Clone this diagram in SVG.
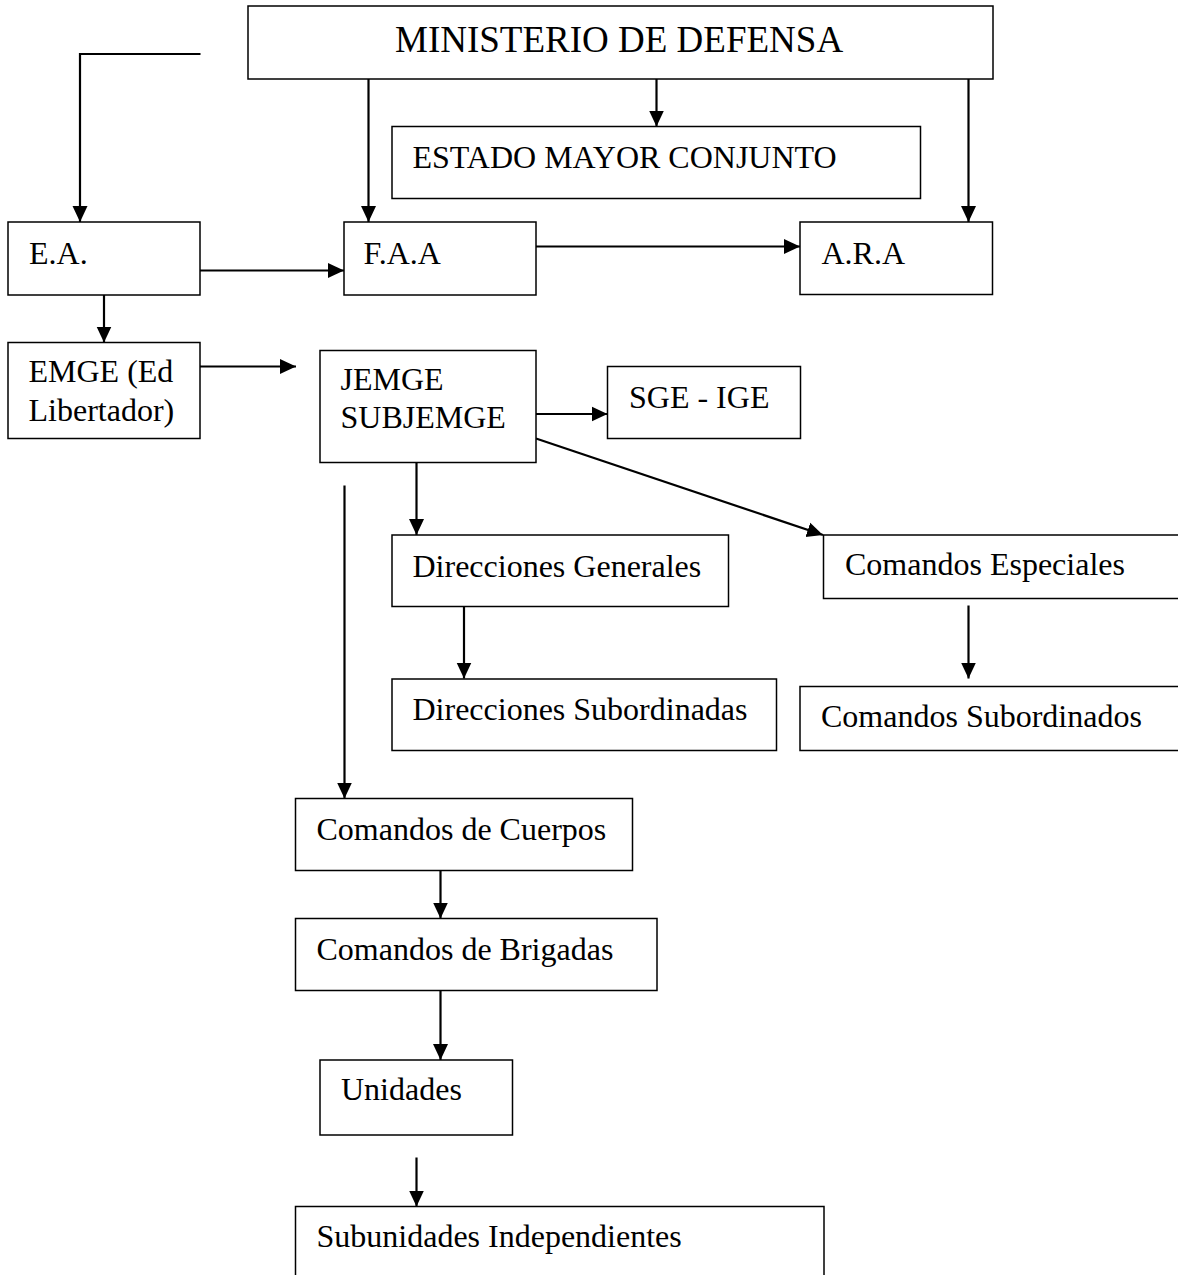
<svg xmlns="http://www.w3.org/2000/svg" width="1178" height="1275" viewBox="0 0 1178 1275">
<style>
.box{fill:#fff;stroke:#000;stroke-width:1.5}
.t{font-family:"Liberation Serif","Times New Roman",serif;font-size:32px;fill:#000}
.big{font-size:37px}
.c{fill:none;stroke:#000;stroke-width:2.2}
</style>
<defs>
<marker id="ah" markerUnits="userSpaceOnUse" viewBox="0 0 16 16" markerWidth="16" markerHeight="16" refX="16" refY="8" orient="auto">
<path d="M0,0.5 L16,8 L0,15.5 Z" fill="#000"/>
</marker>
</defs>
<rect width="1178" height="1275" fill="#fff"/>
<g id="connectors">
<path class="c" d="M200.5,54 H80 V222" marker-end="url(#ah)"/>
<path class="c" d="M368.5,79 V222" marker-end="url(#ah)"/>
<path class="c" d="M656.5,79 V126.5" marker-end="url(#ah)"/>
<path class="c" d="M968.5,79 V222" marker-end="url(#ah)"/>
<path class="c" d="M200,270.5 H344" marker-end="url(#ah)"/>
<path class="c" d="M536,246.5 H800" marker-end="url(#ah)"/>
<path class="c" d="M104,295 V342.5" marker-end="url(#ah)"/>
<path class="c" d="M200,366.5 H296" marker-end="url(#ah)"/>
<path class="c" d="M536,414 H607.5" marker-end="url(#ah)"/>
<path class="c" d="M536,438.5 L823,535" marker-end="url(#ah)"/>
<path class="c" d="M416.5,462.5 V535" marker-end="url(#ah)"/>
<path class="c" d="M344.5,485.5 V798.5" marker-end="url(#ah)"/>
<path class="c" d="M464,606.5 V678.5" marker-end="url(#ah)"/>
<path class="c" d="M968.5,605.5 V678.5" marker-end="url(#ah)"/>
<path class="c" d="M440.5,870.5 V918.5" marker-end="url(#ah)"/>
<path class="c" d="M440.5,990.5 V1060" marker-end="url(#ah)"/>
<path class="c" d="M416.5,1157.5 V1206.5" marker-end="url(#ah)"/>
</g>
<g id="ministerio"><rect class="box" x="248" y="6" width="745" height="73"/><text class="t big" x="395" y="52">MINISTERIO DE DEFENSA</text></g>
<g id="estado-mayor"><rect class="box" x="392" y="126.5" width="528.5" height="72"/><text class="t" x="412.5" y="167.5">ESTADO MAYOR CONJUNTO</text></g>
<g id="ea"><rect class="box" x="8" y="222" width="192" height="73"/><text class="t" x="29" y="264">E.A.</text></g>
<g id="faa"><rect class="box" x="344" y="222" width="192" height="73"/><text class="t" x="363.5" y="264">F.A.A</text></g>
<g id="ara"><rect class="box" x="800" y="222" width="192.5" height="72.5"/><text class="t" x="821.5" y="264">A.R.A</text></g>
<g id="emge"><rect class="box" x="8" y="342.5" width="192" height="96"/><text class="t" x="28.5" y="382">EMGE (Ed</text><text class="t" x="28.5" y="421">Libertador)</text></g>
<g id="jemge"><rect class="box" x="320" y="350.5" width="216" height="112"/><text class="t" x="340.5" y="390">JEMGE</text><text class="t" x="340.5" y="428">SUBJEMGE</text></g>
<g id="sge"><rect class="box" x="607.5" y="366.5" width="193" height="72"/><text class="t" x="629" y="407.5">SGE - IGE</text></g>
<g id="dir-gen"><rect class="box" x="392" y="535" width="336.5" height="71.5"/><text class="t" x="412.5" y="576.5">Direcciones Generales</text></g>
<g id="com-esp"><rect class="box" x="823.5" y="535" width="370" height="63.5"/><text class="t" x="845" y="575">Comandos Especiales</text></g>
<g id="dir-sub"><rect class="box" x="392" y="679" width="384.5" height="71.5"/><text class="t" x="412.5" y="720">Direcciones Subordinadas</text></g>
<g id="com-sub"><rect class="box" x="800" y="686.5" width="393" height="64"/><text class="t" x="821" y="726.5">Comandos Subordinados</text></g>
<g id="com-cuerpos"><rect class="box" x="295.5" y="798.5" width="337" height="72"/><text class="t" x="316.5" y="840">Comandos de Cuerpos</text></g>
<g id="com-brigadas"><rect class="box" x="295.5" y="918.5" width="361.5" height="72"/><text class="t" x="316.5" y="960">Comandos de Brigadas</text></g>
<g id="unidades"><rect class="box" x="320" y="1060" width="192.5" height="75"/><text class="t" x="341" y="1100">Unidades</text></g>
<g id="subunidades"><rect class="box" x="295.5" y="1206.5" width="528.5" height="90"/><text class="t" x="316.5" y="1246.5">Subunidades Independientes</text></g>
</svg>
